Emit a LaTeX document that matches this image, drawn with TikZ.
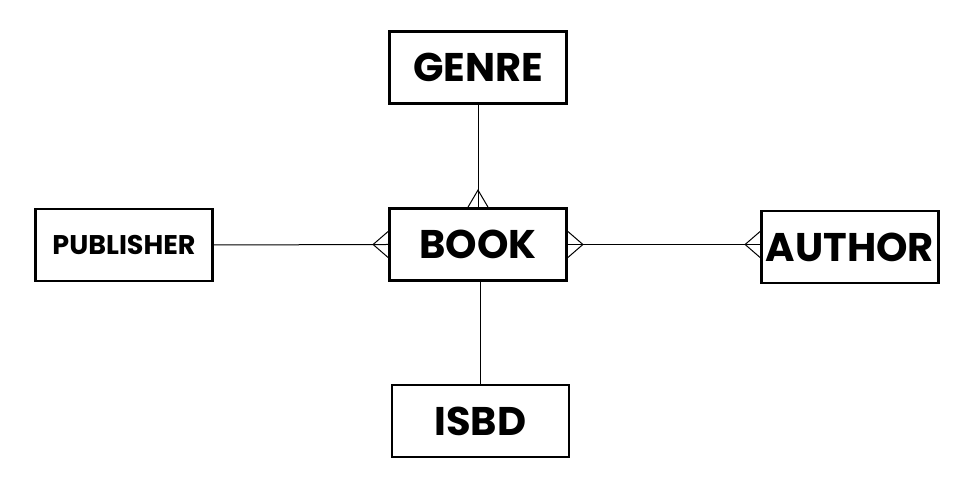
\documentclass[tikz,border=0pt]{standalone}
\usepackage{fontspec}
\setmainfont{Poppins}
\usetikzlibrary{calc}
\tikzset{
  entity/.style={draw,line width=2.8pt,minimum width=177pt,minimum height=72pt,
    font=\fontsize{40}{40}\selectfont\bfseries,inner sep=0pt},
  link/.style={line width=1pt}
}
\begin{document}
\begin{tikzpicture}[x=1pt,y=1pt]
    \useasboundingbox (0,0) rectangle (978,500);

    % Entities
    \node[entity] (genre) at (478,432.5) {GENRE};
    \node[entity] (book) at (478,255.5) {BOOK};
    \node[entity,font=\fontsize{27}{27}\selectfont\bfseries] (publisher) at (124,255) {PUBLISHER};
    \node[entity] (author) at (850,253) {AUTHOR};
    \node[entity] (isbd) at (480.5,79) {ISBD};

    % Relations
    \draw[link] (genre.south) -- (book.north);
    \draw[link] (isbd.north) -- (isbd.north |- book.south);
    \draw[link] (publisher.east) -- (book.west);
    \draw[link] (book.east) -- (book.east -| author.west);

    % Crow's feet
    \draw[link] ($(book.north)+(-10,0)$) -- ($(book.north)+(0,17)$) -- ($(book.north)+(10,0)$);
    \draw[link] ($(book.west)+(0,13)$) -- ($(book.west)+(-15,0)$) -- ($(book.west)+(0,-13)$);
    \draw[link] ($(book.east)+(0,13)$) -- ($(book.east)+(15,0)$) -- ($(book.east)+(0,-13)$);
    \coordinate (a) at (book.east -| author.west);
    \draw[link] ($(a)+(0,13)$) -- ($(a)+(-15,0)$) -- ($(a)+(0,-13)$);
  \end{tikzpicture}
\end{document}
